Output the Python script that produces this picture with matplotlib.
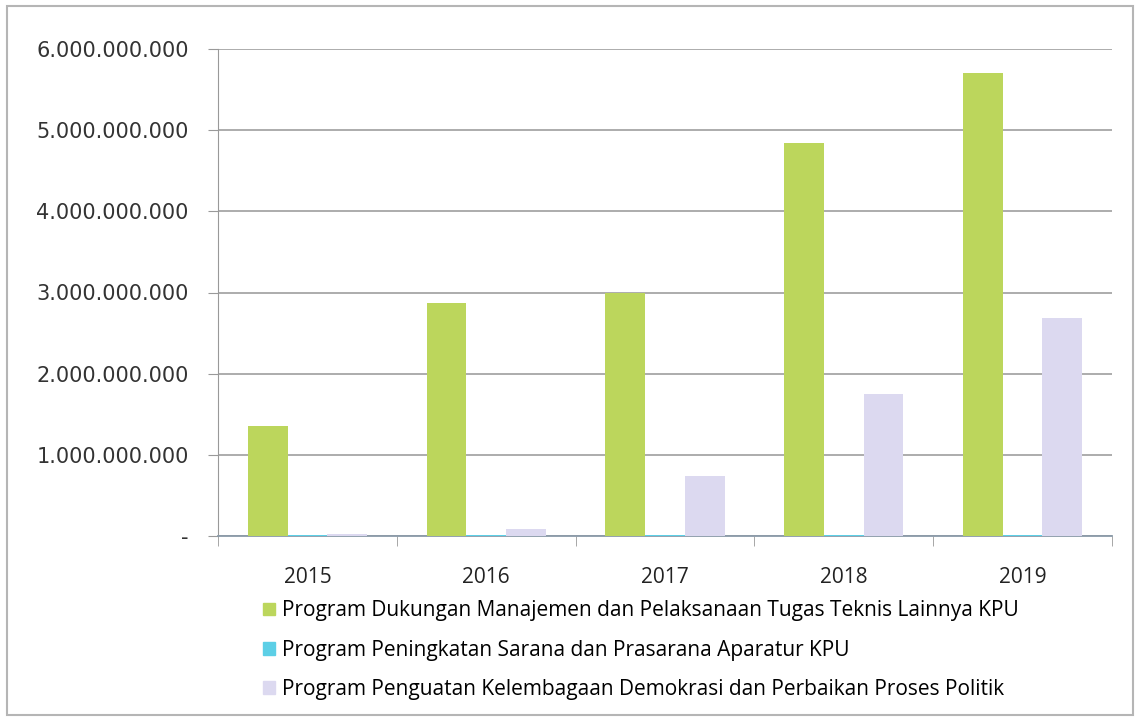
import numpy as np
import matplotlib.pyplot as plt
from matplotlib.patches import Patch, Rectangle

years = ["2015", "2016", "2017", "2018", "2019"]
dukungan = [1.36e9, 2.87e9, 3.00e9, 4.84e9, 5.70e9]
sarana = [8e6, 8e6, 10e6, 12e6, 10e6]
penguatan = [0.03e9, 0.09e9, 0.74e9, 1.75e9, 2.69e9]

labels = ["Program Dukungan Manajemen dan Pelaksanaan Tugas Teknis Lainnya KPU",
          "Program Peningkatan Sarana dan Prasarana Aparatur KPU",
          "Program Penguatan Kelembagaan Demokrasi dan Perbaikan Proses Politik"]
colors = ["#bcd65c", "#5ccfe6", "#dcd9f0"]

W, H = 1138, 719
fig = plt.figure(figsize=(W / 100, H / 100), dpi=100)
ax = fig.add_axes([218 / W, 1 - 536 / H, (1112 - 218) / W, (536 - 49) / H])

x = np.arange(len(years))
w = 1 / 4.5
for i, (vals, c) in enumerate(zip([dukungan, sarana, penguatan], colors)):
    ax.bar(x + (i - 1) * w, vals, width=w, color=c, zorder=3)

ax.set_xlim(-0.5, len(years) - 0.5)
ax.set_ylim(0, 6e9)
ticks = np.arange(0, 6.5e9, 1e9)
ax.set_yticks(ticks)
ax.set_yticklabels(["-"] + ["{:,.0f}".format(t).replace(",", ".") for t in ticks[1:]],
                   fontsize=15, color="#333333", family="DejaVu Sans")
ax.tick_params(axis="y", length=7, color="#999999", pad=14)
ax.set_xticks(x)
ax.set_xticklabels(years, fontsize=15, color="#222222", family="Open Sans")
ax.tick_params(axis="x", length=0, pad=22)
ax.set_xticks(np.arange(-0.5, len(years), 1), minor=True)
ax.tick_params(axis="x", which="minor", length=7, color="#999999")

ax.grid(axis="y", color="#a6a6a6", linewidth=1.3, zorder=0)
for s in ["top", "right"]:
    ax.spines[s].set_visible(False)
ax.spines["left"].set_color("#999999")
ax.spines["bottom"].set_color("#8a9aa8")
ax.spines["bottom"].set_linewidth(1.3)

handles = [Patch(color=c) for c in colors]
fig.legend(handles, labels, loc="upper left", bbox_to_anchor=(255 / W, 1 - 592 / H),
           frameon=False, prop={"family": "Open Sans", "size": 15},
           handlelength=0.55, handleheight=0.55, handletextpad=0.35,
           labelspacing=0.88, borderaxespad=0)

fig.patches.append(Rectangle((7 / W, 1 - 715 / H), (1133 - 7) / W, (715 - 6) / H,
                             transform=fig.transFigure, fill=False,
                             edgecolor="#b5b5b5", linewidth=1.5))

fig.savefig("out.png", dpi=100)
